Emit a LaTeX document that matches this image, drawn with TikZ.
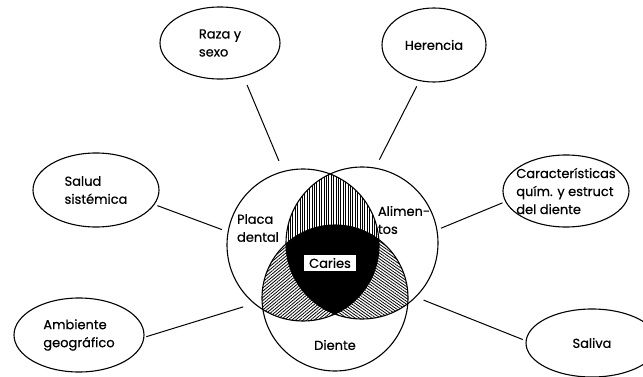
\documentclass[tikz,border=0pt]{standalone}
\usepackage{fontspec}
\setmainfont{Poppins}[FakeBold=0.6]
\usetikzlibrary{shapes.geometric, patterns.meta, positioning}

% common looks
\tikzset{
  factor/.style={draw, ellipse, line width=1.1pt, inner xsep=-30pt, inner ysep=-14pt,
    font=\fontsize{13}{18}\selectfont, align=left},
  venn/.style={draw, circle, line width=1.1pt, inner sep=0pt},
  vennlabel/.style={font=\fontsize{13}{18}\selectfont, align=left, inner sep=1pt},
  link/.style={line width=1pt},
  hatch/.style={pattern={Lines[angle=#1, distance=2.4pt, line width=0.8pt]}},
}

\begin{document}
\begin{tikzpicture}[x=1pt, y=-1pt]
  \useasboundingbox (0,0) rectangle (643,377);

  % ---- centres of the three circles ----
  \coordinate (cP) at (303,245);
  \coordinate (cA) at (362,243);
  \coordinate (cD) at (335,298);

  % ---- hatched overlaps ----
  \begin{scope}
    \clip (cP) circle[radius=76pt];
    \clip (cA) circle[radius=76pt];
    \fill[hatch=90] (cP) circle[radius=76pt];
  \end{scope}
  \begin{scope}
    \clip (cP) circle[radius=76pt];
    \clip (cD) circle[radius=73pt];
    \fill[hatch=40] (cP) circle[radius=76pt];
  \end{scope}
  \begin{scope}
    \clip (cA) circle[radius=76pt];
    \clip (cD) circle[radius=73pt];
    \fill[hatch=-35] (cA) circle[radius=76pt];
  \end{scope}
  % all three: solid
  \begin{scope}
    \clip (cP) circle[radius=76pt];
    \clip (cA) circle[radius=76pt];
    \fill[black] (cD) circle[radius=73pt];
  \end{scope}

  % ---- circles ----
  \node[venn, minimum size=152pt] (placa) at (cP) {};
  \node[venn, minimum size=152pt] (alim) at (cA) {};
  \node[venn, minimum size=146pt] (diente) at (cD) {};

  \node[vennlabel] (placatxt) at (258,228) {Placa\\dental};
  \node[vennlabel] (alimtxt) at (404,220) {Alimen-\\tos};
  \node[vennlabel] (dientetxt) at (335,345) {Diente};
  \node[vennlabel, fill=white, inner xsep=5pt, inner ysep=3pt] (caries) at (330,263) {Caries};

  % ---- outer factors ----
  \node[factor, minimum width=120pt, minimum height=72pt] (raza) at (220,43) {Raza y\\sexo};
  \node[factor, minimum width=104pt, minimum height=74pt] (herencia) at (434,45) {Herencia};
  \node[factor, minimum width=126pt, minimum height=74pt] (salud) at (96,190) {Salud\\sistémica};
  \node[factor, minimum width=126pt, minimum height=72pt] (caract) at (566,191)
    {Características\\quím. y estruct\\del diente};
  \node[factor, minimum width=130pt, minimum height=74pt] (ambiente) at (79,335) {Ambiente\\geográfico};
  \node[factor, minimum width=132pt, minimum height=68pt] (saliva) at (592,343) {Saliva};

  % ---- connectors ----
  \draw[link, shorten <=9pt, shorten >=11pt] (raza.-55) -- (placa.105);
  \draw[link, shorten <=6pt, shorten >=9pt] (herencia.-112) -- (alim.80);
  \draw[link, shorten <=3pt, shorten >=6pt] (salud.-14) -- (placa.170);
  \draw[link, shorten <=3pt, shorten >=4pt] (caract.190) -- (alim.10);
  \draw[link, shorten <=2pt, shorten >=11pt] (ambiente.-2) -- (placa.230);
  \draw[link, shorten <=3pt, shorten >=8pt] (saliva.178) -- (alim.315);
\end{tikzpicture}
\end{document}
